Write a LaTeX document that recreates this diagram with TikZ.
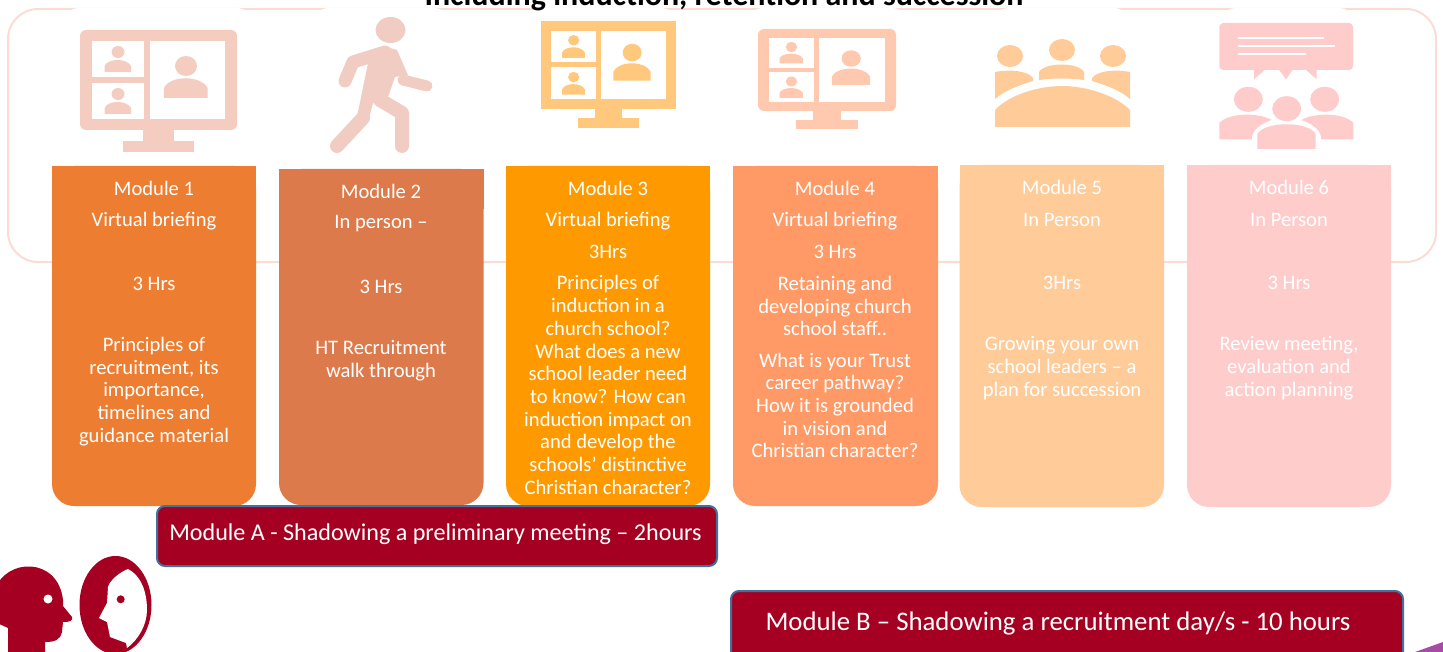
\documentclass[tikz,border=0pt]{standalone}
\usepackage{fontspec}
\setmainfont{Carlito}
\definecolor{framepink}{HTML}{F9DDD5}
\definecolor{modA}{HTML}{ED7D31}
\definecolor{modB}{HTML}{DC7A4B}
\definecolor{modC}{HTML}{FF9900}
\definecolor{modD}{HTML}{FF9966}
\definecolor{modE}{HTML}{FFCB99}
\definecolor{modF}{HTML}{FFCCCC}
\definecolor{iconA}{HTML}{F5CCC0}
\definecolor{iconB}{HTML}{F1CCC2}
\definecolor{iconC}{HTML}{FFC87C}
\definecolor{iconD}{HTML}{FFC9AF}
\definecolor{barred}{HTML}{A50021}
\definecolor{barblue}{HTML}{41719C}
\tikzstyle{modtext}=[text=white,align=center,inner sep=0pt,font=\fontsize{10.3}{11.35}\selectfont]
\tikzstyle{bartext}=[text=white,inner sep=0pt]
\tikzstyle{modbar}=[fill=barred,draw=barblue,line width=1pt,rounded corners=4pt]
\tikzstyle{iconbg}=[fill=white,rounded corners=8pt]
\newcommand{\modbox}[5]{
  \fill[#5,rounded corners=11pt] (#1,#2) rectangle (#3,#4);
  \fill[#5] (#1,#2) rectangle (#3,#2+40);
}
\newcommand{\screenicon}[6]{
  \begin{scope}[shift={(#1,#2)},xscale=#3,yscale=#4]
    \fill[#5,rounded corners=#6] (0,0) rectangle (157,100);
    \fill[#5] (63,95) rectangle (94,111);
    \fill[#5] (43,111) rectangle (114,122);
    \fill[white] (12,11) rectangle (63.5,47);
    \fill[white] (12,53) rectangle (63.5,89);
    \fill[white] (69.5,11) rectangle (145,89);
    \fill[#5] (106,36) ellipse [x radius=11,y radius=10];
    \fill[#5] (84,68) -- (84,58) .. controls (90,45) and (121,45) .. (127.5,58) -- (127.5,68) -- cycle;
    \fill[#5] (38,22) ellipse [x radius=6.5,y radius=6];
    \fill[#5] (24.5,42) -- (24.5,36) .. controls (28,28) and (47,28) .. (51,36) -- (51,42) -- cycle;
    \fill[#5] (38,64) ellipse [x radius=6.5,y radius=6];
    \fill[#5] (24.5,84) -- (24.5,78) .. controls (28,70) and (47,70) .. (51,78) -- (51,84) -- cycle;
  \end{scope}
}

\begin{document}
\begin{tikzpicture}[x=0.5pt,y=-0.5pt]
    \useasboundingbox (0,0) rectangle (1443,652);
    \clip (0,0) rectangle (1443,652);
    % frame behind the modules
    \draw[framepink,line width=1pt,rounded corners=15pt] (8,9) rectangle (1436,262);
    \fill[iconbg] (63,8) rectangle (253,163);
    \fill[iconbg] (313,8) rectangle (450,160);
    \fill[iconbg] (530,8) rectangle (677,150);
    \fill[iconbg] (747,8) rectangle (908,150);
    \fill[iconbg] (993,8) rectangle (1130,160);
    \fill[iconbg] (1220,8) rectangle (1355,160);
    \node[anchor=base,inner sep=0pt,font=\fontsize{16}{19}\selectfont\bfseries] (title) at (724,6)
        {Including induction, retention and succession};

    % icons
    \screenicon{80}{30}{1}{1}{iconA}{3pt}
    \screenicon{541}{21}{.86}{.877}{iconC}{0pt}
    \screenicon{758}{29}{.879}{.82}{iconD}{3pt}

    % walking figure
    \fill[iconB] (390.5,30) ellipse [x radius=15,y radius=13];
    \fill[iconB] (368,63) -- (383,46) -- (397,50) -- (408,75) -- (395,77) -- (388,97) -- (373,103) -- (368,122) -- (357,117) -- cycle;
    \draw[iconB,line width=6.5pt,line cap=round,line join=round] (385,52) -- (353,62) -- (345,81);
    \draw[iconB,line width=5.5pt,line cap=round] (403,80) -- (427,86);
    \draw[iconB,line width=7pt,line cap=round,line join=round] (380,100) -- (402,113) -- (402,146);
    \draw[iconB,line width=7pt,line cap=round] (363,118) -- (337,146);

    % round table
    \fill[modE] (1010,56) ellipse [x radius=13,y radius=11];
    \fill[modE] (1062,50) ellipse [x radius=13,y radius=11];
    \fill[modE] (1113,56) ellipse [x radius=13,y radius=11];
    \fill[modE] (995,127) -- (995,110) .. controls (1010,94) and (1040,86) .. (1062,86) .. controls (1084,86) and (1114,94) .. (1130,110) -- (1130,127) -- cycle;
    \fill[modE] (995,72) .. controls (1010,69) and (1028,71) .. (1033,78) -- (1033,81) .. controls (1020,85) and (1005,90) .. (995,99) -- cycle;
    \fill[modE] (1130,72) .. controls (1115,69) and (1097,71) .. (1092,78) -- (1092,81) .. controls (1105,85) and (1120,90) .. (1130,99) -- cycle;
    \fill[modE] (1039,80) -- (1039,72) .. controls (1045,62) and (1078,62) .. (1084,72) -- (1084,80) .. controls (1070,78) and (1053,78) .. (1039,80);

    % group with speech bubble
    \fill[modF,rounded corners=2pt] (1219.3,23) rectangle (1353,70);
    \fill[modF] (1254,69) -- (1254,79.3) -- (1266,69) -- cycle;
    \fill[modF] (1278.3,69) -- (1286,79.3) -- (1293.3,69) -- cycle;
    \fill[modF] (1305,69) -- (1316.7,79.3) -- (1316.7,69) -- cycle;
    \draw[white,line width=1.2pt] (1237.7,38.3) -- (1324,38.3);
    \draw[white,line width=1.2pt] (1237.7,46.3) -- (1335,46.3);
    \draw[white,line width=1.2pt] (1237.7,54.3) -- (1305.7,54.3);
    \fill[modF] (1248.3,99.3) ellipse [x radius=14.5,y radius=12.5];
    \fill[modF] (1324.7,99.3) ellipse [x radius=14.5,y radius=12.5];
    \fill[modF] (1286.7,108.7) ellipse [x radius=14.5,y radius=12.5];
    \fill[modF] (1219.3,139.3) -- (1219.3,123) .. controls (1228,113) and (1258,112) .. (1271.7,120) .. controls (1260,124) and (1252,130) .. (1251.7,139.3) -- cycle;
    \fill[modF] (1353.3,139.3) -- (1353.3,123) .. controls (1345,113) and (1315,112) .. (1301.3,120) .. controls (1313,124) and (1321,130) .. (1321.3,139.3) -- cycle;
    \fill[modF] (1257.3,149) -- (1257.3,134) .. controls (1265,121) and (1308,121) .. (1315.7,134) -- (1315.7,149) -- cycle;

    % module boxes
    \modbox{52}{166}{256}{506}{modA}
    \modbox{279}{169}{483.5}{505}{modB}
    \modbox{506}{166}{710}{506}{modC}
    \modbox{733}{166}{938}{506}{modD}
    \modbox{959.5}{165}{1164}{507}{modE}
    \modbox{1187}{165}{1391}{507}{modF}

    \node[modtext] (m1a) at (154,188) {Module 1};
    \node[modtext] (m1b) at (154,221) {Virtual briefing};
    \node[modtext] (m1c) at (154,283.5) {3 Hrs};
    \node[modtext] (m1d) at (154,391.5) {Principles of\\recruitment, its\\importance,\\timelines and\\guidance material};

    \node[modtext] (m2a) at (381,191) {Module 2};
    \node[modtext] (m2b) at (381,224) {In person --};
    \node[modtext] (m2c) at (381,286.5) {3 Hrs};
    \node[modtext] (m2d) at (381,361) {HT Recruitment\\walk through};

    \node[modtext] (m3a) at (608,188) {Module 3};
    \node[modtext] (m3b) at (608,221) {Virtual briefing};
    \node[modtext] (m3c) at (608,252) {3Hrs};
    \node[modtext] (m3d) at (608,385) {Principles of\\induction in a\\church school?\\What does a new\\school leader need\\to know? How can\\induction impact on\\and develop the\\schools’ distinctive\\Christian character?};

    \node[modtext] (m4a) at (835,188) {Module 4};
    \node[modtext] (m4b) at (835,221) {Virtual briefing};
    \node[modtext] (m4c) at (835,252) {3 Hrs};
    \node[modtext] (m4d) at (835,306) {Retaining and\\developing church\\school staff..};
    \node[modtext] (m4e) at (835,405.5) {What is your Trust\\career pathway?\\How it is grounded\\in vision and\\Christian character?};

    \node[modtext] (m5a) at (1062,187) {Module 5};
    \node[modtext] (m5b) at (1062,220) {In Person};
    \node[modtext] (m5c) at (1062,283) {3Hrs};
    \node[modtext] (m5d) at (1062,368) {Growing your own\\school leaders -- a\\plan for succession};

    \node[modtext] (m6a) at (1289,187) {Module 6};
    \node[modtext] (m6b) at (1289,220) {In Person};
    \node[modtext] (m6c) at (1289,283) {3 Hrs};
    \node[modtext] (m6d) at (1289,368) {Review meeting,\\evaluation and\\action planning};

    % shadowing bars
    \draw[modbar] (157,506) rectangle (717,566);
    \node[bartext,font=\fontsize{12.05}{14}\selectfont] (barA) at (435.5,534.5) {Module A - Shadowing a preliminary meeting -- 2hours};
    \draw[modbar] (731,591) rectangle (1403,670);
    \node[bartext,font=\fontsize{13.4}{16}\selectfont] (barB) at (1058,623) {Module B -- Shadowing a recruitment day/s - 10 hours};

    % heads
    \fill[barred] (-5,622) -- (-5,590) .. controls (5,558) and (58,556) .. (63,600) -- (63,606) -- (72,617) .. controls (73,621) and (70,622) .. (63,622) -- (62,632) .. controls (60,640) and (55,642) .. (45,642) -- (45,655) -- (8,655) -- (8,628) -- cycle;
    \fill[white] (48,599) circle (4.5);
    \fill[barred] (115.5,605) ellipse [x radius=36,y radius=49];
    \fill[white] (128,569) .. controls (140,575) and (147,590) .. (147,610) .. controls (147,625) and (138,640) .. (127,648) -- (126,643) -- (110,637) -- (107,622) -- (99,618) -- (107,603) -- (108,587) .. controls (110,580) and (120,572) .. (128,569) -- cycle;
    \fill[barred] (120.7,599.3) circle (4);

    \fill[violet!70!white] (1415,652) -- (1443,642) -- (1443,652) -- cycle;
\end{tikzpicture}
\end{document}
